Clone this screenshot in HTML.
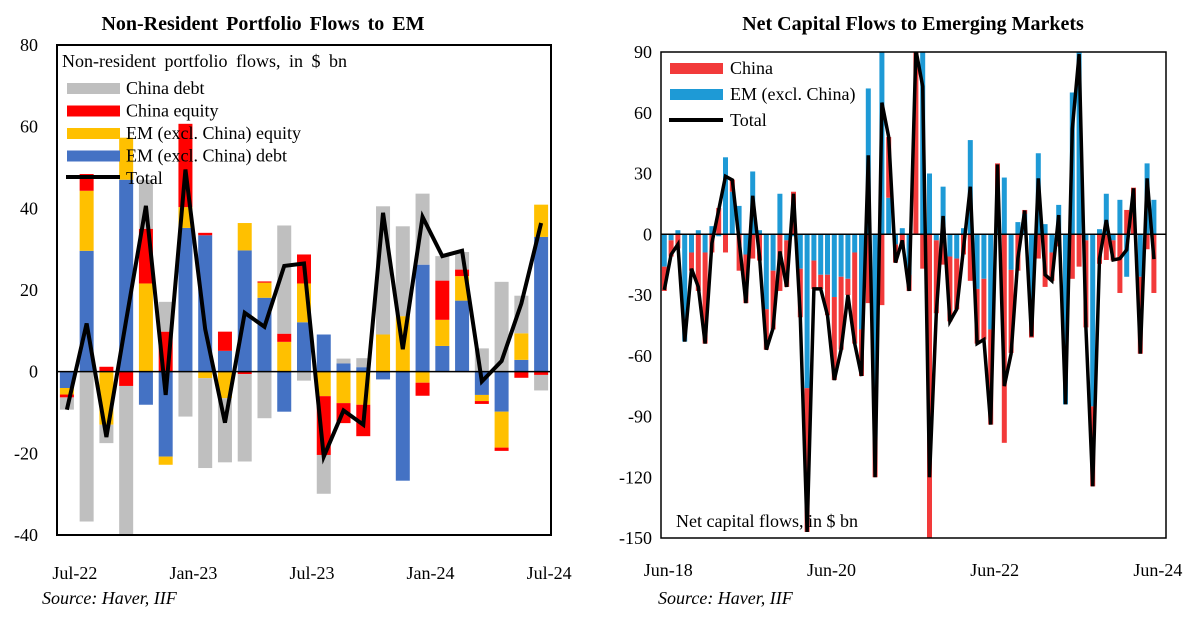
<!DOCTYPE html>
<html><head><meta charset="utf-8"><style>
body{margin:0;background:#fff;width:1200px;height:617px;overflow:hidden}
svg text{font-family:"Liberation Serif",serif;fill:#000}
</style></head><body>
<svg id="chart" width="1200" height="617" xmlns="http://www.w3.org/2000/svg">
<text x="263" y="30" font-size="20" font-weight="bold" text-anchor="middle" word-spacing="3">Non-Resident Portfolio Flows to EM</text>
<text x="913" y="30" font-size="20" font-weight="bold" text-anchor="middle">Net Capital Flows to Emerging Markets</text>
<g id="left"></g>
<g id="right"></g>
<text x="42" y="604" font-size="18" font-style="italic">Source: Haver, IIF</text>
<text x="658" y="604" font-size="18" font-style="italic">Source: Haver, IIF</text>
</svg>
<script>
// Left chart data (Jul-22 .. Jul-24)
const lMonths = ["Jul-22","Aug-22","Sep-22","Oct-22","Nov-22","Dec-22","Jan-23","Feb-23","Mar-23","Apr-23","May-23","Jun-23","Jul-23","Aug-23","Sep-23","Oct-23","Nov-23","Dec-23","Jan-24","Feb-24","Mar-24","Apr-24","May-24","Jun-24","Jul-24"];
const emDebt   = [-4,29.6,0,47,-8.1,-20.8,35.2,33.4,5.1,29.7,18.1,-9.8,12.1,9.1,2,1.1,-1.9,-26.7,26.2,6.3,17.4,-5.7,-9.8,2.9,33];
const emEquity = [-1.6,14.7,-13,10.3,21.6,-2,5.1,-1.6,-6.5,6.7,3.7,7.3,9.5,-6,-7.7,-8.1,9.1,13.6,-2.7,6.4,6,-1.5,-8.8,6.5,7.9];
const chEquity = [-0.7,4.1,1.2,-3.5,13.4,9.8,20.4,0.6,4.7,-0.6,0.3,2,7.1,-14.4,-4.9,-7.7,0,0,-3.2,9.6,1.6,-0.7,-0.8,-1.5,-0.8];
const chDebt   = [-3,-36.7,-4.5,-36.7,12,7.3,-11,-22,-15.7,-21.4,-11.4,26.5,-2.2,-9.5,1.2,2.2,31.4,22,17.4,6,4.3,5.7,22,9.2,-3.8];
const lTotal   = [-9.3,11.8,-16,12.6,40.6,-5.7,49.5,10.4,-12.5,14.4,11,25.9,26.5,-20.8,-9.5,-13,38.9,5.5,37.9,28.3,29.6,-2.4,2.6,16.7,36.4];
const lTicks   = [80,60,40,20,0,-20,-40];
const lXLabels = ["Jul-22","Jan-23","Jul-23","Jan-24","Jul-24"];

// Right chart data (Jun-18 .. Jun-24)
const rEM = [-16,-3,2,-53,-9,2,-9,4,-1,38,21,14,-10,31,2,-37,-18,20,-3,-1,-17,-76,
 -13,-20,-20,-31,-21,-22,-9,-47,72,-100,100,18,-5,3,-20,0,91,30,-3,23.5,-11,-12,3,46.5,-27,-22,-47,
 15,28,-17.6,6,10,-38,40,5,-9,14.5,-84,70,105,-3,-85,2.5,20,-3,17,-21,0,-21,35,17];
const rChina = [-12,-8,-7,0,-9,-28,-45,-9,13,-9,6,-18,-24,-12,-13,-20,-29,-28,-23,21,-24,-71,
 -14,-7,-20,-41,-36,-8,-45,-23,-34,-20,-35,30,-9,-6,-8,91,-17,-150,-36,-15,-32,-25,-10,-23,-27,-30,-47,
 20,-103,-41,-18,2,-13,-12,-26,-14,-6,0,-22,-16,-43,-39.5,-14.6,-12.7,-10,-29,12,23,-38,-7.4,-29];
const rTotal = [-27.5,-10,-5,-53,-17,-26,-54,-4.4,12,28.6,26.8,-3,-34,19,-11,-57,-46.4,-8.5,-26,20,-41,-147,
 -27,-27,-40,-72,-57,-30,-54,-70,39,-120,65,48,-14,-3,-28,91,73,-120,-39,9,-43,-37,-7,23.5,-54,-52,-94,
 34.5,-75,-59,-12,11.7,-50.5,27.6,-20,-23,9.5,-84,52,89,-46,-124.5,-12,7,-12.7,-12,-7.7,22.7,-59,27.6,-12.3];
const rTicks = [90,60,30,0,-30,-60,-90,-120,-150];
const rXLabels = ["Jun-18","Jun-20","Jun-22","Jun-24"];

const NS="http://www.w3.org/2000/svg";
function mk(tag, attrs, parent){const e=document.createElementNS(NS,tag);for(const k in attrs)e.setAttribute(k,attrs[k]);parent.appendChild(e);return e;}

// ---------- LEFT ----------
(function(){
 const g=document.getElementById('left');
 const X0=57,X1=551,Y0=45,Y1=535,vmax=80,vmin=-40;
 const y=v=>Y0+(vmax-v)/(vmax-vmin)*(Y1-Y0);
 const slot=(X1-X0)/lMonths.length;
 const x=i=>X0+slot*(i+0.5);
 lTicks.forEach(t=>{const e=mk('text',{x:38,y:y(t)+6,'font-size':18,'text-anchor':'end'},g);e.textContent=t;
  
  });
 const series=[[emDebt,'#4472c4','em-debt'],[emEquity,'#ffc000','em-equity'],[chEquity,'#ff0000','china-equity'],[chDebt,'#bfbfbf','china-debt']];
 const bw=14;
 for(let i=0;i<lMonths.length;i++){let pos=0,neg=0;
  series.forEach(([arr,col,nm])=>{const v=arr[i];if(!v)return;let a,b;
   if(v>0){a=pos;b=pos+v;pos=b;}else{a=neg;b=neg+v;neg=b;}
   const r=mk('rect',{x:x(i)-bw/2,y:Math.min(y(a),y(b)),width:bw,height:Math.abs(y(a)-y(b)),fill:col},g);
   
   });}
 const z=mk('line',{x1:X0,x2:X1,y1:y(0),y2:y(0),stroke:'#000','stroke-width':1.5},g);
 
 
 const p=mk('polyline',{points:lTotal.map((v,i)=>x(i)+','+y(v)).join(' '),fill:'none',stroke:'#000','stroke-width':4,'stroke-linejoin':'miter'},g);
 
 
 const fr=mk('rect',{x:X0,y:Y0,width:X1-X0,height:Y1-Y0,fill:'none',stroke:'#000','stroke-width':2},g);
 
 
 lXLabels.forEach(l=>{const i=lMonths.indexOf(l);const e=mk('text',{x:x(i)+8,y:579,'font-size':18,'text-anchor':'middle'},g);e.textContent=l;
  
  });
 const lt=mk('text',{x:62,y:67,'font-size':18,'word-spacing':4},g);lt.textContent='Non-resident portfolio flows, in $ bn';
 
 
 const leg=[['China debt','#bfbfbf'],['China equity','#ff0000'],['EM (excl. China) equity','#ffc000'],['EM (excl. China) debt','#4472c4']];
 leg.forEach(([t,c],k)=>{const cy=88+k*22.5;
  const s=mk('rect',{x:67,y:cy-5,width:53,height:11,fill:c},g);
  
  
  const e=mk('text',{x:126,y:cy+6,'font-size':18},g);e.textContent=t;
  
  });
 const ll=mk('line',{x1:66,x2:120,y1:177,y2:177,stroke:'#000','stroke-width':4},g);
 
 
 const lte=mk('text',{x:126,y:184,'font-size':18},g);lte.textContent='Total';
 
 
})();

// ---------- RIGHT ----------
(function(){
 const g=document.getElementById('right');
 const X0=661,X1=1166,Y0=52,Y1=538,vmax=90,vmin=-150;
 const y=v=>Y0+(vmax-v)/(vmax-vmin)*(Y1-Y0);
 const x=i=>664.3+6.8*i;
 const defs=mk('defs',{},g);const cp=mk('clipPath',{id:'rclip'},defs);mk('rect',{x:X0,y:Y0,width:X1-X0,height:Y1-Y0},cp);
 rTicks.forEach(t=>{const e=mk('text',{x:652,y:y(t)+6,'font-size':18,'text-anchor':'end'},g);e.textContent=t;
  
  });
 const pg=mk('g',{'clip-path':'url(#rclip)'},g);
 const bw=5;
 for(let i=0;i<rTotal.length;i++){let pos=0,neg=0;
  [[rEM,'#1e9ad6','em'],[rChina,'#f23a3a','china']].forEach(([arr,col,nm])=>{const v=arr[i];if(!v)return;let a,b;
   if(v>0){a=pos;b=pos+v;pos=b;}else{a=neg;b=neg+v;neg=b;}
   const r=mk('rect',{x:x(i)-bw/2,y:Math.min(y(a),y(b)),width:bw,height:Math.abs(y(a)-y(b)),fill:col},pg);
   
   });}
 const z=mk('line',{x1:X0,x2:X1,y1:y(0),y2:y(0),stroke:'#000','stroke-width':1.5},g);
 
 
 const p=mk('polyline',{points:rTotal.map((v,i)=>x(i)+','+y(v)).join(' '),fill:'none',stroke:'#000','stroke-width':3.5},pg);
 
 
 const fr=mk('rect',{x:X0,y:Y0,width:X1-X0,height:Y1-Y0,fill:'none',stroke:'#000','stroke-width':1.5},g);
 
 
 rXLabels.forEach((l,k)=>{const e=mk('text',{x:x(k*24)+4,y:576,'font-size':18,'text-anchor':'middle'},g);e.textContent=l;
  
  });
 const leg=[['China','#f23a3a'],['EM (excl. China)','#1e9ad6']];
 leg.forEach(([t,c],k)=>{const cy=68+k*26;
  const s=mk('rect',{x:670,y:cy-5,width:53,height:11,fill:c},g);
  
  
  const e=mk('text',{x:730,y:cy+6,'font-size':18},g);e.textContent=t;
  
  });
 const ll=mk('line',{x1:669,x2:723,y1:120,y2:120,stroke:'#000','stroke-width':4},g);
 
 
 const lte=mk('text',{x:730,y:126,'font-size':18},g);lte.textContent='Total';
 
 
 const nl=mk('text',{x:676,y:527,'font-size':18},g);nl.textContent='Net capital flows, in $ bn';
 
 
})();
</script>
</body></html>
